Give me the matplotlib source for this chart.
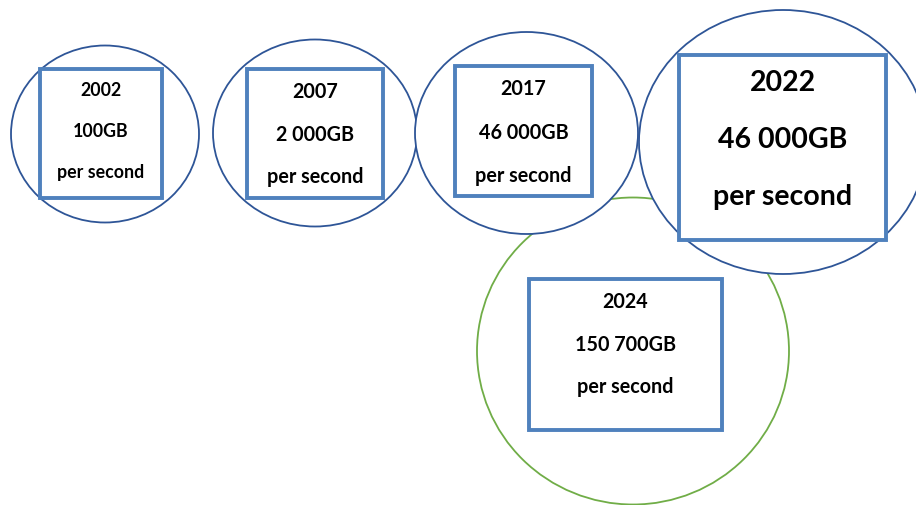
import matplotlib
matplotlib.use("Agg")
import matplotlib.pyplot as plt
from matplotlib.patches import Ellipse, Rectangle

# ---- data ----
years = ["2002", "2007", "2017", "2022", "2024"]
amounts = ["100GB", "2 000GB", "46 000GB", "46 000GB", "150 700GB"]
unit_label = "per second"

# ---- layout (pixel coordinates, y downward) ----
circle_centers = [(105, 135), (315, 134), (526.5, 134), (783, 143), (633, 352)]
circle_sizes = [(188, 177), (204, 187), (223, 202), (288, 264), (312, 307)]
box_rects = [(40, 70, 162, 199), (247, 70, 383, 199), (455, 67, 592, 197),
             (679, 56, 886, 241), (529, 280, 722, 431)]
text_rows = [(90, 131, 172), (92, 135, 177), (89, 133, 176), (83, 140, 197), (302, 345, 387)]
font_sizes = [12.8, 14.2, 14.2, 20.5, 14.2]
circle_colors = ["#2e5597", "#2e5597", "#2e5597", "#2e5597", "#70ad47"]
box_color = "#4f81bd"

fig = plt.figure(figsize=(9.16, 5.06), dpi=100)
ax = fig.add_axes([0, 0, 1, 1])
ax.set_xlim(0, 916)
ax.set_ylim(506, 0)
ax.axis("off")

# draw green circle (2024) first so blue circles overlap it
order = [4, 0, 1, 2, 3]
z = 1
for i in order:
    cx, cy = circle_centers[i]
    w, h = circle_sizes[i]
    ax.add_patch(Ellipse((cx, cy), w, h, facecolor="white",
                         edgecolor=circle_colors[i], lw=1.3, zorder=z))
    x0, y0, x1, y1 = box_rects[i]
    ax.add_patch(Rectangle((x0, y0), x1 - x0, y1 - y0, facecolor="white",
                           edgecolor=box_color, lw=2.8, zorder=z + 1))
    xc = (x0 + x1) / 2
    for txt, yy in zip([years[i], amounts[i], unit_label], text_rows[i]):
        ax.text(xc, yy, txt, ha="center", va="center", fontsize=font_sizes[i],
                fontweight="bold", family="Lato", color="black", zorder=z + 2)
    z += 3

fig.savefig("out.png", dpi=100)
